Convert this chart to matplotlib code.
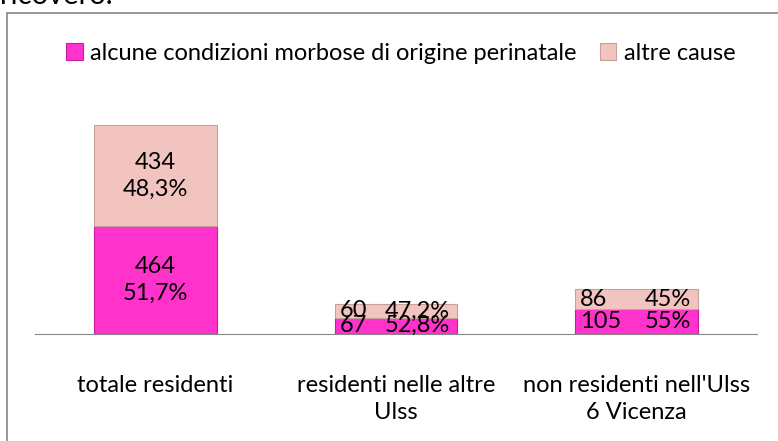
import matplotlib.pyplot as plt
from matplotlib.patches import Rectangle

plt.rcParams['font.family'] = ['Lato', 'DejaVu Sans']

# Data
categories = ["totale residenti", "residenti nelle altre\nUlss", "non residenti nell'Ulss\n6 Vicenza"]
perinatali = [464, 67, 105]
altre = [434, 60, 86]
perinatali_pct = ["51,7%", "52,8%", "55%"]
altre_pct = ["48,3%", "47,2%", "45%"]
series_names = ["alcune condizioni morbose di origine perinatale", "altre cause"]

col_peri = '#FF33CC'
col_altre = '#F2C4C0'

fig = plt.figure(figsize=(7.78, 4.41), dpi=100)
W, H = 778, 441

# outer chart frame (only left and top edge are visible in the crop)
fig.patches.append(Rectangle((7 / W, -0.1), 1.2, 1 - 13 / H + 0.1, transform=fig.transFigure,
                             fill=False, edgecolor='#878787', linewidth=1.2))
fig.text(0.0, 1 - 4 / H, "ricovero.", fontsize=21, va='baseline', ha='left')

ax = fig.add_axes([35 / W, (H - 333.5) / H, (757 - 35) / W, 232 / H])
x = range(len(categories))
width = 0.51
b1 = ax.bar(x, perinatali, width, color=col_peri, edgecolor='#C020A0', linewidth=0.8, label=series_names[0])
b2 = ax.bar(x, altre, width, bottom=perinatali, color=col_altre, edgecolor='#C8A09C', linewidth=0.8,
            label=series_names[1])

ax.set_xlim(-0.5, 2.5)
ax.set_ylim(0, 1000)
for s in ['left', 'right', 'top']:
    ax.spines[s].set_visible(False)
ax.spines['bottom'].set_color('#878787')
ax.set_yticks([])
ax.set_xticks(list(x))
ax.set_xticklabels(categories, fontsize=17, linespacing=1.35)
ax.tick_params(axis='x', length=0, pad=30)

# segment labels
for i in x:
    segs = [(0, perinatali[i], perinatali_pct[i]), (perinatali[i], altre[i], altre_pct[i])]
    for bottom, val, pct in segs:
        yc = bottom + val / 2
        if i == 0:
            ax.text(i, yc, f"{val}\n{pct}", ha='center', va='center', fontsize=17, linespacing=1.35)
        else:
            ax.text(i - width / 2 + 0.02, yc, str(val), ha='left', va='center', fontsize=17)
            ax.text(i + width / 2 - 0.03, yc, pct, ha='right', va='center', fontsize=17)

fig.legend(handles=[b1, b2], labels=series_names, loc='center', bbox_to_anchor=(0.515, 1 - 53 / H),
           ncol=2, frameon=False, fontsize=17, handlelength=0.7, handleheight=0.7,
           handletextpad=0.3, columnspacing=1.0)

plt.savefig('out.png', dpi=100)
